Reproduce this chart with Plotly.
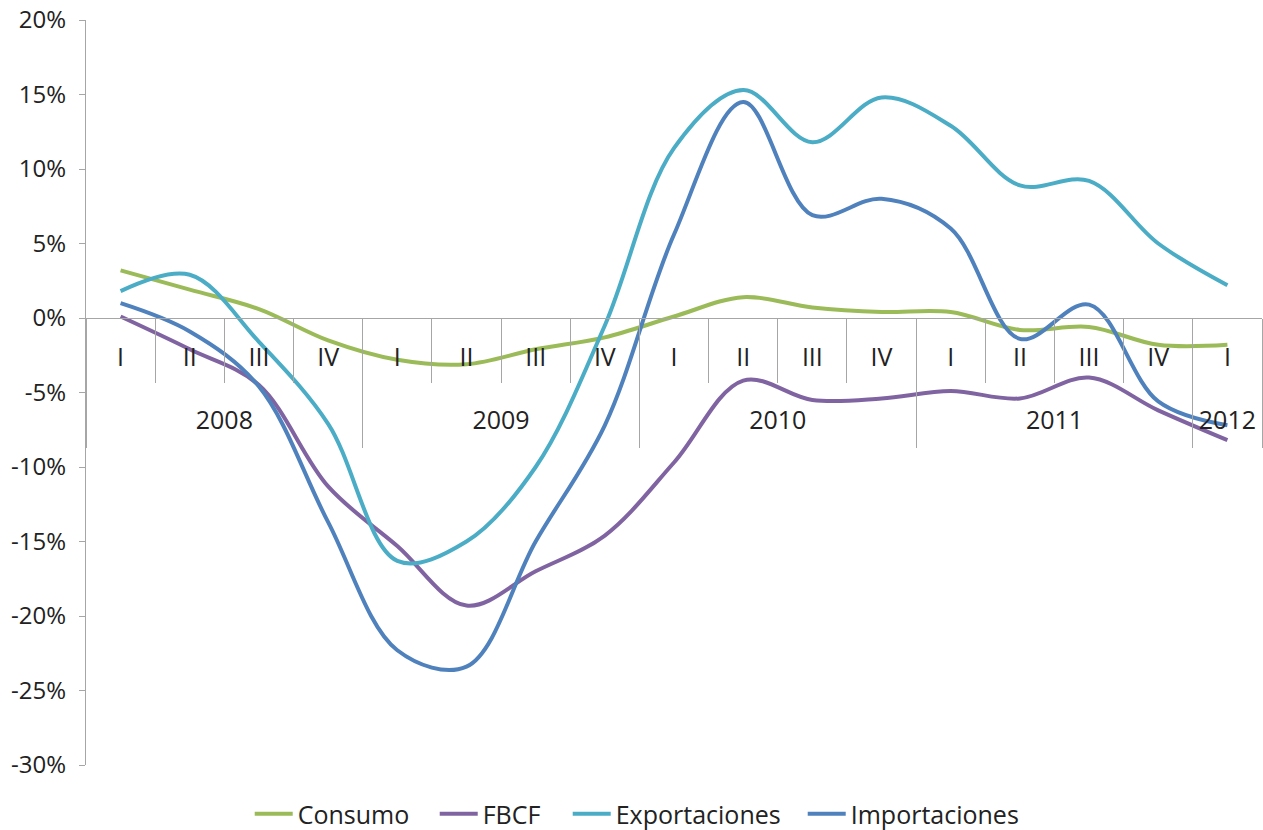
import plotly.graph_objects as go

years = ["2008"] * 4 + ["2009"] * 4 + ["2010"] * 4 + ["2011"] * 4 + ["2012"]
quarters = ["I", "II", "III", "IV"] * 4 + ["I"]

consumo = [3.2, 1.9, 0.6, -1.5, -2.8, -3.1, -2.1, -1.3, 0.1, 1.4, 0.7, 0.4, 0.4, -0.8, -0.6, -1.8, -1.8]
fbcf = [0.1, -2.1, -4.5, -11.3, -15.3, -19.3, -17.0, -14.6, -9.7, -4.2, -5.5, -5.4, -4.9, -5.4, -4.0, -6.2, -8.2]
exportaciones = [1.8, 2.9, -1.6, -7.1, -16.3, -15.0, -10.0, -0.5, 11.4, 15.3, 11.8, 14.8, 12.9, 8.9, 9.2, 5.0, 2.2]
importaciones = [1.0, -0.9, -4.6, -13.7, -22.3, -23.4, -15.0, -7.2, 5.6, 14.5, 6.9, 8.0, 6.0, -1.4, 0.9, -5.6, -7.2]

y_ticks = [20, 15, 10, 5, 0, -5, -10, -15, -20, -25, -30]

series = [
    ("Consumo", consumo, "#9BBB59", 132),
    ("FBCF", fbcf, "#8064A2", 80),
    ("Exportaciones", exportaciones, "#4BACC6", 182),
    ("Importaciones", importaciones, "#4F81BD", 172),
]

FONT = "Open Sans"
AXIS_COLOR = "#A6A6A6"
TEXT_COLOR = "#222222"

idx = list(range(len(quarters)))
x_range = [-0.5, len(quarters) - 0.5]

# category boundaries (quarters) and year groups
q_bounds = [i - 0.5 for i in range(len(quarters) + 1)]
year_names = []
for y in years:
    if y not in year_names:
        year_names.append(y)
year_centers = []
year_bounds = [-0.5]
for yn in year_names:
    pos = [i for i, y in enumerate(years) if y == yn]
    year_centers.append(sum(pos) / len(pos))
    year_bounds.append(pos[-1] + 0.5)

y_zero_frac = (0 - y_ticks[-1]) / (y_ticks[0] - y_ticks[-1])

fig = go.Figure()
for name, vals, color, lw in series:
    fig.add_trace(go.Scatter(
        x=idx,
        y=vals,
        name=name,
        mode="lines",
        line=dict(color=color, width=4, shape="spline", smoothing=1.0),
        legendwidth=lw,
        hovertemplate=name + ": %{y}%<extra></extra>",
    ))

# invisible helper trace so the year axis is drawn
fig.add_trace(go.Scatter(
    x=[idx[0]], y=[None], xaxis="x2", mode="lines",
    showlegend=False, hoverinfo="skip",
))

fig.update_layout(
    width=1263,
    height=830,
    margin=dict(l=86, r=1, t=20, b=65, autoexpand=False),
    paper_bgcolor="white",
    plot_bgcolor="white",
    font=dict(family=FONT, color=TEXT_COLOR),
    showlegend=True,
    legend=dict(
        orientation="h",
        x=0.47,
        xanchor="center",
        y=-0.035,
        yanchor="top",
        font=dict(size=25, family=FONT, color=TEXT_COLOR),
        itemwidth=38,
    ),
    xaxis=dict(
        range=x_range,
        anchor="free",
        position=y_zero_frac,
        automargin=False,
        showline=True,
        linecolor=AXIS_COLOR,
        linewidth=1.3,
        tickmode="array",
        tickvals=idx,
        ticktext=quarters,
        ticks="",
        minor=dict(
            tickmode="array",
            tickvals=q_bounds,
            ticks="outside",
            ticklen=64,
            tickcolor=AXIS_COLOR,
            tickwidth=1.3,
            showgrid=False,
        ),
        showgrid=False,
        zeroline=False,
        tickfont=dict(size=25, family=FONT, color=TEXT_COLOR),
        ticklabelstandoff=17,
        ticklabeloverflow="allow",
    ),
    xaxis2=dict(
        range=x_range,
        overlaying="x",
        anchor="free",
        position=y_zero_frac,
        automargin=False,
        showline=False,
        tickmode="array",
        tickvals=year_centers,
        ticktext=year_names,
        ticks="",
        minor=dict(
            tickmode="array",
            tickvals=year_bounds,
            ticks="outside",
            ticklen=129,
            tickcolor=AXIS_COLOR,
            tickwidth=1.3,
            showgrid=False,
        ),
        showgrid=False,
        zeroline=False,
        tickfont=dict(size=25, family=FONT, color=TEXT_COLOR),
        ticklabelstandoff=85,
        ticklabeloverflow="allow",
    ),
    yaxis=dict(
        range=[y_ticks[-1], y_ticks[0]],
        automargin=False,
        tickmode="array",
        tickvals=y_ticks,
        ticktext=[f"{v}%" for v in y_ticks],
        showline=True,
        linecolor=AXIS_COLOR,
        linewidth=1.3,
        ticks="outside",
        ticklen=6,
        tickcolor=AXIS_COLOR,
        tickwidth=1.3,
        showgrid=False,
        zeroline=False,
        tickfont=dict(size=24, family=FONT, color=TEXT_COLOR),
        ticklabelstandoff=8,
        ticklabeloverflow="allow",
    ),
)

# remove the default page margin so the figure fills the window exactly
fig.write_html(
    "out.html",
    config={"displayModeBar": False},
    post_script="document.body.style.margin = '0';",
)
